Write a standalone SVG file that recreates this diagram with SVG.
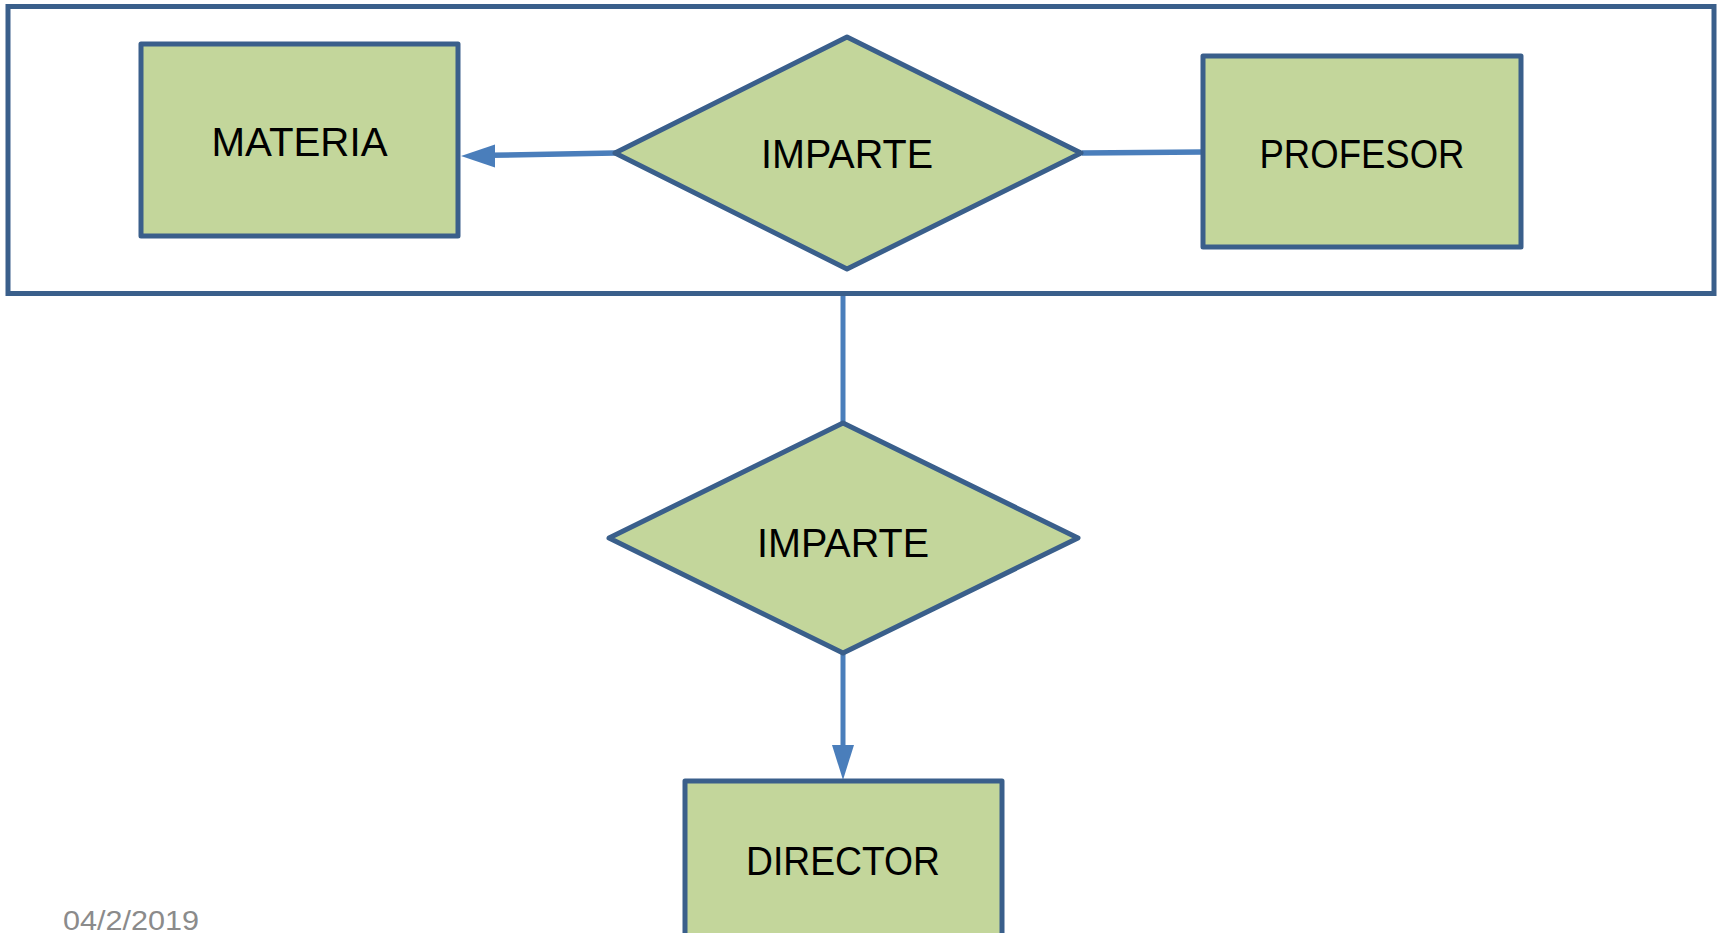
<svg xmlns="http://www.w3.org/2000/svg" width="1719" height="933" viewBox="0 0 1719 933">
<style>
.ent{fill:#c3d69b;stroke:#3a5f8b;stroke-width:5;stroke-linejoin:round}
.lbl{font-family:"Liberation Sans",Arial,sans-serif;font-size:40px;fill:#000;text-anchor:middle}
.con{stroke:#4a7ebb;fill:none}
.arrowhead{fill:#4a7ebb}
</style>
<rect width="1719" height="933" fill="#fff"/>
<g id="aggregate">
<rect x="8" y="6.5" width="1706" height="287" fill="none" stroke="#3a5f8b" stroke-width="5"/>
</g>
<g id="connectors">
<line class="con" x1="615" y1="153" x2="490" y2="155.3" stroke-width="5.5"/>
<path class="arrowhead" d="M461,156 L495,144.5 L495,167.5 Z"/>
<line class="con" x1="1082" y1="153" x2="1203" y2="152" stroke-width="5.5"/>
<line class="con" x1="843" y1="296" x2="843" y2="423" stroke-width="5"/>
<line class="con" x1="843" y1="653" x2="843" y2="748" stroke-width="5"/>
<path class="arrowhead" d="M843,780 L832,745 L854,745 Z"/>
</g>
<g id="materia">
<rect class="ent" x="141" y="44" width="317" height="192"/>
<text class="lbl" x="299.5" y="156" textLength="176" lengthAdjust="spacingAndGlyphs">MATERIA</text>
</g>
<g id="imparte1">
<polygon class="ent" points="847,37 1081,153 847,269 615,153"/>
<text class="lbl" x="847" y="168" textLength="172" lengthAdjust="spacingAndGlyphs">IMPARTE</text>
</g>
<g id="profesor">
<rect class="ent" x="1203" y="56" width="318" height="191"/>
<text class="lbl" x="1362" y="168" textLength="205" lengthAdjust="spacingAndGlyphs">PROFESOR</text>
</g>
<g id="imparte2">
<polygon class="ent" points="843,423 1078,538 843,653 609,538"/>
<text class="lbl" x="843" y="557" textLength="172" lengthAdjust="spacingAndGlyphs">IMPARTE</text>
</g>
<g id="director">
<rect class="ent" x="685" y="781" width="317" height="180"/>
<text class="lbl" x="843" y="875" textLength="194" lengthAdjust="spacingAndGlyphs">DIRECTOR</text>
</g>
<text id="date" x="63" y="930" font-family="Liberation Sans,Arial,sans-serif" font-size="28" fill="#8b8b8b" textLength="136" lengthAdjust="spacingAndGlyphs">04/2/2019</text>
</svg>
